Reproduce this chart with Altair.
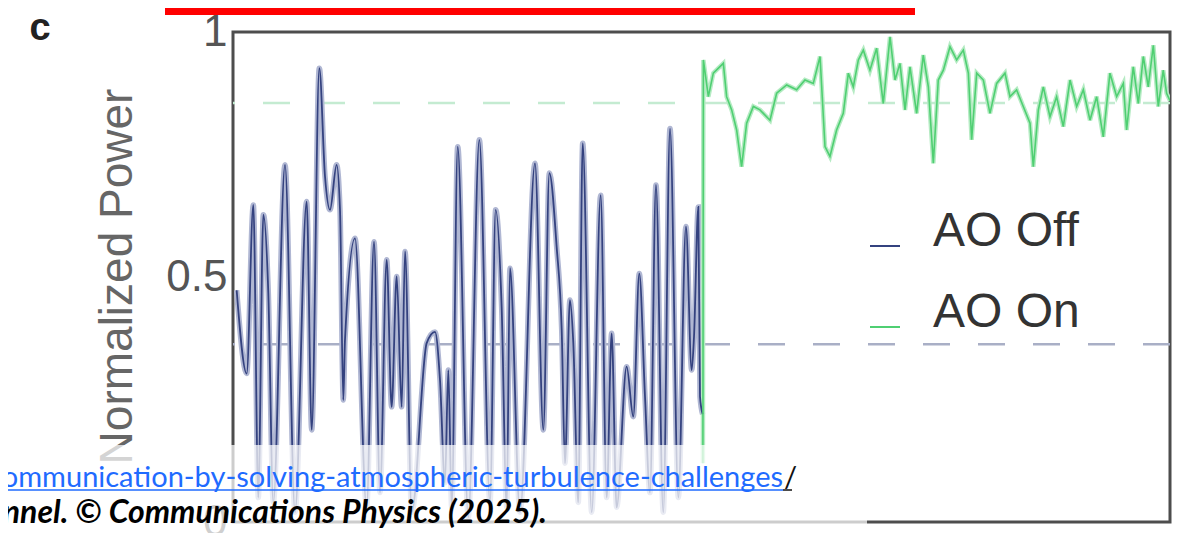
import altair as alt
import pandas as pd

# ---- data ----
off_x = [3.9, 14.6, 21.7, 27.0, 32.4, 37.7, 43.0, 55.5, 66.2, 78.6, 84.0, 92.1, 98.2, 103.5, 110.6,
         114.2, 117.7, 119.5, 130.2, 142.6, 150.5, 156.9, 164.0, 169.3, 174.7, 180.0, 183.6, 190.7,
         206.7, 215.6, 220.9, 226.2, 229.8, 233.4, 239.8, 251.1, 262.9, 274.3, 280.3, 286.7, 292.1,
         295.6, 306.3, 322.3, 331.2, 337.6, 345.4, 350.8, 354.3, 359.6, 363.2, 368.5, 373.2, 382.8,
         392.4, 398.8, 404.1, 409.4, 420.1, 427.2, 433.6, 439.7, 445.0, 451.4, 459.2, 466.4, 475.3,
         483.4, 489.5, 492.0, 496.6, 498.4, 501.2]
off_y = [0.473, 0.303, 0.647, 0.05, 0.627, 0.467, 0.04, 0.729, 0.02, 0.654, 0.188, 0.926, 0.705,
         0.637, 0.729, 0.637, 0.249, 0.371, 0.579, 0.03, 0.572, 0.06, 0.535, 0.235, 0.501, 0.235,
         0.552, 0.02, 0.365, 0.388, 0.29, 0.08, 0.31, 0.03, 0.766, 0.01, 0.78, 0.04, 0.637, 0.439,
         0.03, 0.518, 0.02, 0.732, 0.188, 0.712, 0.562, 0.392, 0.12, 0.453, 0.365, 0.04, 0.773,
         0.02, 0.667, 0.05, 0.385, 0.03, 0.317, 0.215, 0.507, 0.256, 0.06, 0.688, 0.02, 0.803,
         0.05, 0.603, 0.31, 0.378, 0.643, 0.256, 0.22]

on_x = [501.5, 502.0, 507.3, 512.6, 523.3, 526.8, 532.2, 537.5, 542.8, 548.2, 555.3, 562.4, 573.1,
        580.2, 590.9, 601.5, 610.4, 619.3, 626.5, 631.8, 637.1, 644.2, 651.3, 656.7, 662.0, 667.4,
        672.7, 679.8, 686.9, 694.0, 701.2, 706.5, 711.8, 717.2, 722.5, 729.6, 736.7, 742.1, 747.4,
        752.7, 758.1, 765.2, 772.3, 779.4, 784.8, 788.3, 793.7, 800.8, 807.9, 815.0, 823.9, 829.2,
        836.3, 843.4, 850.6, 854.1, 859.5, 864.8, 871.9, 879.0, 886.1, 893.3, 900.4, 907.5, 914.6,
        921.7, 928.8, 935.9, 943.1, 950.2, 953.7, 960.8, 966.2, 971.5, 976.8, 982.2, 987.5, 992.8,
        996.4, 1000.0]
on_y = [0.12, 0.943, 0.868, 0.916, 0.936, 0.868, 0.841, 0.8, 0.725, 0.814, 0.848, 0.841, 0.82,
        0.875, 0.892, 0.882, 0.902, 0.895, 0.95, 0.766, 0.746, 0.8, 0.834, 0.916, 0.888, 0.943,
        0.963, 0.922, 0.967, 0.854, 0.99, 0.902, 0.936, 0.841, 0.929, 0.834, 0.953, 0.888, 0.732,
        0.902, 0.922, 0.97, 0.943, 0.963, 0.916, 0.78, 0.916, 0.902, 0.834, 0.895, 0.916, 0.868,
        0.882, 0.848, 0.814, 0.725, 0.841, 0.888, 0.827, 0.868, 0.807, 0.902, 0.848, 0.882, 0.82,
        0.868, 0.786, 0.916, 0.868, 0.895, 0.8, 0.929, 0.854, 0.95, 0.888, 0.973, 0.848, 0.922,
        0.875, 0.86]

series_names = ["AO Off", "AO On"]
series_colors = ["#34427f", "#4fcf72"]
mean_values = [0.363, 0.855]
mean_colors = ["#a9afc6", "#c4ebd1"]
y_ticks = [0, 0.5, 1]

df_off = pd.DataFrame({"t": off_x, "p": off_y, "series": "AO Off"})
df_on = pd.DataFrame({"t": on_x, "p": on_y, "series": "AO On"})
df_means = pd.DataFrame({"series": series_names, "p": mean_values})
ann = pd.DataFrame({"k": [0]})

FONT = "Liberation Sans"
series_scale = alt.Scale(domain=series_names, range=series_colors)

x_enc = alt.X("t:Q", scale=alt.Scale(domain=[0, 1000], nice=False, zero=False), axis=None)
y_enc = alt.Y(
    "p:Q",
    scale=alt.Scale(domain=[0, 1], nice=False),
    axis=alt.Axis(
        values=y_ticks, labelExpr="datum.value == 0 ? '0' : datum.value == 1 ? '1' : '0.5'",
        title="Normalized Power", titleFontSize=46, titleFont=FONT, titleFontWeight="normal",
        titleColor="#666666", titleX=-102, titleY=244, titleAngle=270, titleAlign="center",
        titleBaseline="alphabetic",
        labelFontSize=44, labelFont=FONT, labelColor="#555555", labelPadding=6,
        ticks=False, domain=False, grid=False,
    ),
)

base_means = alt.Chart(df_means).mark_rule(strokeDash=[27, 28], strokeWidth=2.5).encode(
    y=alt.Y("p:Q"),
    color=alt.Color("series:N", scale=alt.Scale(domain=series_names, range=mean_colors), legend=None),
)

halo_off = alt.Chart(df_off).mark_line(interpolate="monotone", strokeWidth=5.5, color="#b0b7d3",
                                       clip=True).encode(x=x_enc, y=y_enc)
halo_on = alt.Chart(df_on).mark_line(strokeWidth=4.5, color="#b5ebc3", clip=True).encode(
    x="t:Q", y="p:Q")

core_off = alt.Chart(df_off).mark_line(interpolate="monotone", strokeWidth=1.8, clip=True).encode(
    x="t:Q", y="p:Q",
    color=alt.Color("series:N", scale=series_scale,
                    legend=alt.Legend(title=None, orient="none", legendX=628, legendY=190,
                                      labelFontSize=48, labelFont=FONT, labelColor="#333333",
                                      symbolType="stroke", symbolSize=900, symbolStrokeWidth=2,
                                      labelOffset=24, rowPadding=33, padding=0, labelLimit=400,
                                      labelBaseline="alphabetic")),
)
core_on = alt.Chart(df_on).mark_line(strokeWidth=1.6, clip=True).encode(
    x="t:Q", y="p:Q", color=alt.Color("series:N", scale=series_scale, legend=None))

# ---- page overlays (web page elements around the figure) ----
panel_c = alt.Chart(ann).mark_text(text="c", fontSize=38, font=FONT, fontWeight="bold",
                                   color="#222222", align="center", baseline="alphabetic").encode(
    x=alt.value(-193), y=alt.value(8))

red_bar = alt.Chart(ann).mark_rule(color="#ff0000", strokeWidth=7).encode(
    x=alt.value(-68), x2=alt.value(682), y=alt.value(-20.5))

white_band = alt.Chart(ann).mark_rect(color="white", opacity=0.72).encode(
    x=alt.value(-240), x2=alt.value(634), y=alt.value(413), y2=alt.value(505))

link_text = alt.Chart(ann).mark_text(
    text="ommunication-by-solving-atmospheric-turbulence-challenges", font="Lato", fontSize=29,
    color="#1f6bff", align="right", baseline="alphabetic").encode(x=alt.value(550), y=alt.value(455))
slash_text = alt.Chart(ann).mark_text(text="/", font="Lato", fontSize=29, color="#111111",
                                      align="left", baseline="alphabetic").encode(
    x=alt.value(551), y=alt.value(455))
link_line = alt.Chart(ann).mark_rule(color="#1f6bff", strokeWidth=1.5).encode(
    x=alt.value(-240), x2=alt.value(550), y=alt.value(458))
slash_line = alt.Chart(ann).mark_rule(color="#111111", strokeWidth=1.5).encode(
    x=alt.value(550), x2=alt.value(559), y=alt.value(458))
caption = alt.Chart(ann).mark_text(
    text="nnel. \u00a9 Communications Physics (2025).", font="Lato", fontSize=32,
    fontWeight="bold", fontStyle="italic", color="#000000", align="right",
    baseline="alphabetic").encode(x=alt.value(314), y=alt.value(491))

chart = alt.layer(
    base_means, halo_off, halo_on, core_off, core_on,
    panel_c, red_bar, white_band, link_text, slash_text, link_line, slash_line, caption,
).resolve_scale(color="independent").properties(
    width=937, height=490,
    padding={"left": 225, "top": 24, "right": 13, "bottom": 11},
    autosize=alt.AutoSizeParams(type="none"),
    background="white",
).configure_view(stroke="#4d4d4d", strokeWidth=3)

chart.save("out.html", embed_options={"renderer": "svg", "actions": False})
